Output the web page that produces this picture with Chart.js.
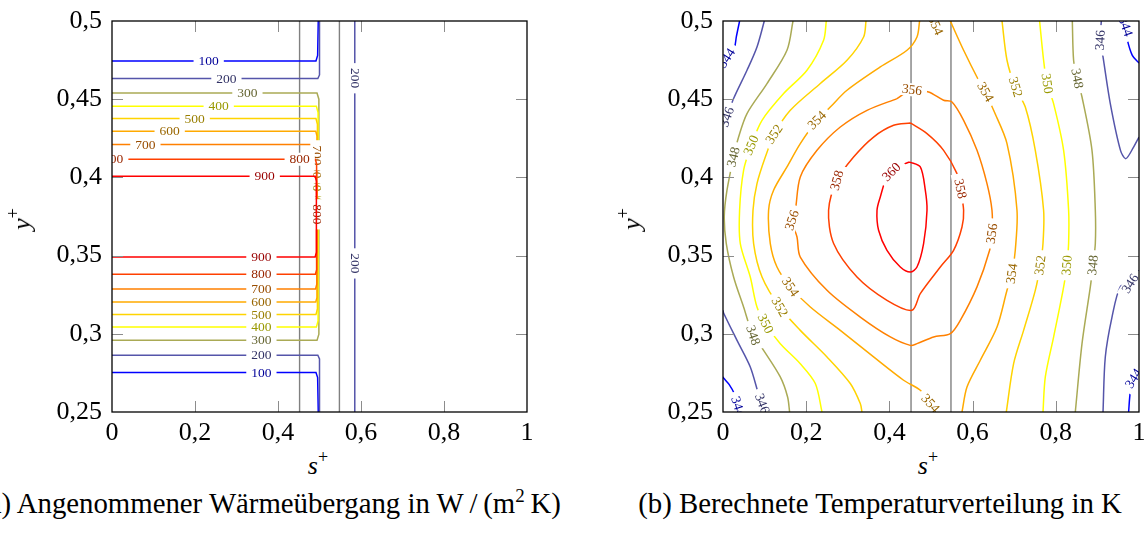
<!DOCTYPE html>
<html>
<head>
<meta charset="utf-8">
<script src="https://cdn.jsdelivr.net/npm/chart.js@4.4.0/dist/chart.umd.min.js"></script>
<style>
  html, body { margin: 0; padding: 0; background: #fff; }
  #wrap { position: relative; width: 1145px; height: 534px; overflow: hidden;
          font-family: 'Liberation Serif', 'Times New Roman', serif; color: #000; }
  canvas { position: absolute; top: 0; }
  .lab { position: absolute; font-size: 26px; line-height: 26px; white-space: nowrap; z-index: 2; }
  .lab sup { font-size: 18px; vertical-align: 0; position: relative; top: -11px; font-style: normal; }
  .cap { position: absolute; font-size: 28.8px; line-height: 28px; white-space: nowrap;
         transform: translateX(-50%); z-index: 2; }
  .cap sup { font-size: 19px; vertical-align: 0; position: relative; top: -11px; }
</style>
</head>
<body>
<div id="wrap">
  <canvas id="chart-waerme" width="560" height="445" style="left:0;width:560px;height:445px"></canvas>
  <canvas id="chart-temp" width="545" height="445" style="left:600px;width:545px;height:445px"></canvas>

  <div class="lab" style="left:318px;top:453px;transform:translateX(-50%)"><i>s</i><sup>+</sup></div>
  <div class="lab" style="left:928px;top:453px;transform:translateX(-50%)"><i>s</i><sup>+</sup></div>
  <div class="lab" style="left:23px;top:219px;transform:translate(-50%,-50%) rotate(-90deg)"><i>y</i><sup>+</sup></div>
  <div class="lab" style="left:633px;top:219px;transform:translate(-50%,-50%) rotate(-90deg)"><i>y</i><sup>+</sup></div>

  <div class="cap" style="left:270px;top:489px">(a) Angenommener Wärmeübergang in W&thinsp;/&thinsp;(m<sup>2</sup>&thinsp;K)</div>
  <div class="cap" style="left:880px;top:489px">(b) Berechnete Temperaturverteilung in K</div>
</div>

<script>
// --- Ejes ---
const xTickValues = [0, 0.2, 0.4, 0.6, 0.8, 1];
const yTickValues = [0.25, 0.3, 0.35, 0.4, 0.45, 0.5];
const wallS = [0.452, 0.548]; // Wände (graue Linien)

// --- Niveaus und Farben (colormap hot) ---
const hLevels = [100, 200, 300, 400, 500, 600, 700, 800, 900];
const tLevels = [344, 346, 348, 350, 352, 354, 356, 358, 360];
const levelColors = ['#0000ff', '#5555aa', '#aaaa55', '#ffff00', '#ffd400', '#ffaa00', '#ff8000', '#ff4000', '#ff0000'];

// --- (a) Wärmeübergang: Konturen [s+, y+] ---
const h100Top = [[0, 0.4744], [0.4915, 0.4744], [0.4955, 0.478], [0.497, 0.5]];
const h100Bot = [[0, 0.2752], [0.4915, 0.2752], [0.4955, 0.272], [0.497, 0.25]];
const h200Top = [[0, 0.4632], [0.496, 0.4632], [0.5, 0.4655], [0.5, 0.5]];
const h200Bot = [[0, 0.2863], [0.496, 0.2863], [0.5, 0.284], [0.5, 0.25]];
const h200Right = [[0.585, 0.5], [0.585, 0.25]];
const h300 = [[0, 0.454], [0.494, 0.454], [0.4985, 0.45], [0.4985, 0.2998], [0.494, 0.2958], [0, 0.2958]];
const h400 = [[0, 0.4455], [0.4925, 0.4455], [0.4965, 0.4415], [0.4965, 0.3083], [0.4925, 0.3043], [0, 0.3043]];
const h500 = [[0, 0.4376], [0.4915, 0.4376], [0.495, 0.434], [0.495, 0.316], [0.4915, 0.3123], [0, 0.3123]];
const h600 = [[0, 0.4295], [0.491, 0.4295], [0.494, 0.4265], [0.494, 0.3233], [0.491, 0.3203], [0, 0.3203]];
const h700 = [[0, 0.421], [0.4905, 0.421], [0.4935, 0.418], [0.4935, 0.3317], [0.4905, 0.3287], [0, 0.3287]];
const h800 = [[0, 0.4116], [0.49, 0.4116], [0.493, 0.4086], [0.493, 0.341], [0.49, 0.338], [0, 0.338]];
const h900 = [[0, 0.4007], [0.4895, 0.4007], [0.4925, 0.3977], [0.4925, 0.3521], [0.4895, 0.3491], [0, 0.3491]];

const hCurves = [
    [100, h100Top], [100, h100Bot], [200, h200Top], [200, h200Bot], [200, h200Right],
    [300, h300], [400, h400], [500, h500], [600, h600], [700, h700], [800, h800], [900, h900]
];

// [Niveau, s+, y+]
const hLabels = [
    [100, 0.233, 0.4744], [200, 0.2757, 0.4632], [300, 0.3263, 0.454], [400, 0.2571, 0.4455],
    [500, 0.1993, 0.4376], [600, 0.139, 0.4295], [700, 0.0805, 0.421], [800, 0.003, 0.4116],
    [800, 0.4523, 0.4116], [900, 0.368, 0.4007],
    [900, 0.36, 0.3491], [800, 0.36, 0.338], [700, 0.36, 0.3287], [600, 0.36, 0.3203],
    [500, 0.36, 0.3123], [400, 0.36, 0.3043], [300, 0.36, 0.2958], [200, 0.36, 0.2863], [100, 0.36, 0.2752],
    [200, 0.585, 0.4634], [200, 0.585, 0.345],
    [700, 0.4935, 0.4141], [600, 0.494, 0.4058], [500, 0.495, 0.3975], [400, 0.4965, 0.3892],
    [300, 0.4985, 0.3809], [800, 0.493, 0.3764]
];

// --- (b) Temperatur: Konturen [s+, y+] ---
const t344a = [[0.0399, 0.5], [0.032, 0.4898], [0.0279, 0.4834], [0.0127, 0.4762], [0, 0.471]];
const t344b = [[0, 0.2725], [0.0014, 0.2717], [0.015, 0.2675], [0.0279, 0.2613], [0.0337, 0.2554], [0.04, 0.25]];
const t344c = [[0.963, 0.5], [0.9675, 0.4965], [0.9712, 0.4887], [0.9839, 0.478], [1, 0.4731]];
const t344d = [[1, 0.277], [0.987, 0.2714], [0.9791, 0.2628], [0.975, 0.25]];
const t346a = [[0.0993, 0.5], [0.0817, 0.4834], [0.0577, 0.4685], [0.0255, 0.4504], [0.0096, 0.4386], [0, 0.4314]];
const t346b = [[0, 0.315], [0.0014, 0.3133], [0.0337, 0.2958], [0.0656, 0.2788], [0.0856, 0.2613], [0.094, 0.2554], [0.097, 0.25]];
const t346c = [[0.9094, 0.5], [0.907, 0.4877], [0.9135, 0.477], [0.931, 0.4472], [0.9555, 0.4173], [0.9683, 0.412], [0.987, 0.4194], [1, 0.4258]];
const t346d = [[1, 0.3406], [0.9791, 0.3321], [0.9555, 0.3304], [0.9351, 0.3107], [0.919, 0.2852], [0.9135, 0.25]];
const t348a = [[0.1683, 0.5], [0.1538, 0.4813], [0.1058, 0.46], [0.0577, 0.4408], [0.0375, 0.4258], [0.0255, 0.413],
    [0.0096, 0.3918], [0.003, 0.375], [0.0079, 0.3577], [0.0255, 0.3363], [0.0495, 0.3171], [0.0721, 0.299],
    [0.0976, 0.2894], [0.1377, 0.2724], [0.1553, 0.2596], [0.1601, 0.25]];
const t348b = [[0.8397, 0.5], [0.8428, 0.4749], [0.851, 0.4632], [0.863, 0.4514], [0.887, 0.4173], [0.895, 0.379],
    [0.895, 0.3577], [0.8894, 0.3438], [0.883, 0.33], [0.863, 0.2937], [0.8469, 0.25]];
const t350a = [[0.2483, 0.5], [0.2418, 0.4877], [0.2019, 0.4685], [0.1457, 0.4536], [0.0938, 0.4365], [0.068, 0.4205],
    [0.0495, 0.4045], [0.0399, 0.379], [0.0416, 0.3577], [0.0656, 0.3363], [0.0817, 0.3171], [0.1017, 0.3065],
    [0.1377, 0.2937], [0.1858, 0.2809], [0.2219, 0.2682], [0.238, 0.25]];
const t350b = [[0.761, 0.5], [0.7707, 0.4749], [0.7788, 0.46], [0.7947, 0.4472], [0.8188, 0.4173], [0.8308, 0.379],
    [0.8308, 0.3577], [0.8269, 0.3438], [0.8173, 0.3278], [0.7947, 0.2979], [0.7748, 0.2724], [0.7692, 0.25]];
const t352a = [[0.3438, 0.5], [0.338, 0.4898], [0.2981, 0.4749], [0.2339, 0.46], [0.1618, 0.4429], [0.1233, 0.4276],
    [0.1017, 0.413], [0.0817, 0.396], [0.0721, 0.379], [0.0736, 0.3577], [0.0938, 0.3363], [0.1361, 0.3171],
    [0.1858, 0.3022], [0.25, 0.2852], [0.306, 0.2682], [0.33, 0.2554], [0.3341, 0.25]];
const t352b = [[0.6707, 0.5], [0.6827, 0.4749], [0.7026, 0.4578], [0.7267, 0.445], [0.7507, 0.4173], [0.7707, 0.379],
    [0.7692, 0.3577], [0.7627, 0.3438], [0.7507, 0.3278], [0.7226, 0.3022], [0.6986, 0.2809], [0.681, 0.25]];
const t354a = [[0.4726, 0.5], [0.4663, 0.4898], [0.4423, 0.4813], [0.3781, 0.4706], [0.2981, 0.4557], [0.2579, 0.445],
    [0.226, 0.4365], [0.1858, 0.4216], [0.1538, 0.4067], [0.1216, 0.3918], [0.1096, 0.379], [0.1137, 0.3577],
    [0.1298, 0.3427], [0.1618, 0.33], [0.2099, 0.3171], [0.282, 0.3022], [0.362, 0.2852], [0.4341, 0.2703],
    [0.4743, 0.2639], [0.5224, 0.25]];
const t354b = [[0.5464, 0.5], [0.5784, 0.4813], [0.6144, 0.4621], [0.6305, 0.4546], [0.6505, 0.4429], [0.6827, 0.4216],
    [0.7067, 0.379], [0.7026, 0.3534], [0.6947, 0.3385], [0.6827, 0.3278], [0.6587, 0.3043], [0.6185, 0.2831],
    [0.5865, 0.266], [0.5745, 0.25]];
const t356 = [[0.4183, 0.4504], [0.3462, 0.4429], [0.282, 0.4322], [0.226, 0.4173], [0.1858, 0.4003], [0.1738, 0.379],
    [0.1659, 0.3726], [0.1779, 0.3619], [0.1858, 0.3491], [0.25, 0.3278], [0.33, 0.3107], [0.4022, 0.298],
    [0.4502, 0.2926], [0.4663, 0.2937], [0.5063, 0.298], [0.5464, 0.3001], [0.5704, 0.3086], [0.6106, 0.33],
    [0.6409, 0.3534], [0.6466, 0.3641], [0.6466, 0.379], [0.6346, 0.396], [0.6106, 0.4173], [0.5784, 0.4365],
    [0.5505, 0.4482], [0.5303, 0.4493], [0.4942, 0.4546], [0.4543, 0.456], [0.4183, 0.4504]];
const t358 = [[0.4502, 0.4348], [0.4904, 0.428], [0.5303, 0.4173], [0.5625, 0.4024], [0.5704, 0.3928], [0.5784, 0.379],
    [0.5745, 0.3683], [0.5543, 0.3534], [0.5224, 0.3427], [0.4743, 0.3257], [0.4543, 0.315], [0.3942, 0.3214],
    [0.3221, 0.3363], [0.2659, 0.3577], [0.2538, 0.379], [0.274, 0.3981], [0.3139, 0.413], [0.362, 0.4258],
    [0.4101, 0.4333], [0.4502, 0.4348]];
const t360 = [[0.4486, 0.4098], [0.4743, 0.4067], [0.4863, 0.3918], [0.4904, 0.379], [0.4822, 0.3577], [0.4663, 0.3427],
    [0.4502, 0.3395], [0.4262, 0.3427], [0.3942, 0.3534], [0.374, 0.3662], [0.3702, 0.379], [0.3781, 0.3875],
    [0.3942, 0.4003], [0.4183, 0.4067], [0.4486, 0.4098]];

const tCurves = [
    [344, t344a], [344, t344b], [344, t344c], [344, t344d],
    [346, t346a], [346, t346b], [346, t346c], [346, t346d],
    [348, t348a], [348, t348b], [350, t350a], [350, t350b],
    [352, t352a], [352, t352b], [354, t354a], [354, t354b],
    [356, t356], [358, t358], [360, t360]
];

const tLabels = [
    [344, 0.009, 0.4762], [344, 0.036, 0.2535], [344, 0.9675, 0.4965], [344, 0.987, 0.2714],
    [346, 0.0096, 0.4386], [346, 0.094, 0.2554], [346, 0.907, 0.4877], [346, 0.9791, 0.3321],
    [348, 0.0255, 0.413], [348, 0.0721, 0.299], [348, 0.851, 0.4632], [348, 0.8894, 0.3438],
    [350, 0.068, 0.4205], [350, 0.1017, 0.3065], [350, 0.7788, 0.46], [350, 0.8269, 0.3438],
    [352, 0.1233, 0.4276], [352, 0.1361, 0.3171], [352, 0.7026, 0.4578], [352, 0.7627, 0.3438],
    [354, 0.226, 0.4365], [354, 0.1618, 0.33], [354, 0.4983, 0.2554], [354, 0.6305, 0.4546],
    [354, 0.6947, 0.3385], [354, 0.5103, 0.4973],
    [356, 0.4543, 0.456], [356, 0.1659, 0.3726], [356, 0.6466, 0.3641],
    [358, 0.274, 0.3981], [358, 0.5704, 0.3928],
    [360, 0.405, 0.4035]
];

// --- Hilfsfunktionen ---
const SERIF = "'Liberation Serif', 'Times New Roman', serif";
const fmtTick = (v) => String(+Number(v).toFixed(2)).replace('.', ',');

const darken = (hex, f) => {
    const n = parseInt(hex.slice(1), 16);
    const r = Math.round(((n >> 16) & 255) * f), g = Math.round(((n >> 8) & 255) * f), b = Math.round((n & 255) * f);
    return `rgb(${r},${g},${b})`;
};

const segDist = (px, py, x1, y1, x2, y2) => {
    const dx = x2 - x1, dy = y2 - y1, len2 = dx * dx + dy * dy;
    let t = len2 ? ((px - x1) * dx + (py - y1) * dy) / len2 : 0;
    t = Math.max(0, Math.min(1, t));
    return Math.hypot(x1 + t * dx - px, y1 + t * dy - py);
};

// Beschriftungen direkt nach der jeweiligen Linie zeichnen (weißer Hintergrund)
const makeLabelPlugin = (items) => ({
    id: 'contourLabels',
    afterDatasetDraw(chart, args) {
        const ds = chart.data.datasets[args.index];
        if (ds.level === undefined) return;
        const { ctx, chartArea: a, scales: { x, y } } = chart;
        ctx.save();
        ctx.beginPath();
        ctx.rect(a.left, a.top, a.right - a.left, a.bottom - a.top);
        ctx.clip();
        ctx.font = `13.5px ${SERIF}`;
        ctx.textAlign = 'center';
        ctx.textBaseline = 'middle';
        items.filter(l => l[0] === ds.level).forEach(l => {
            const lx = x.getPixelForValue(l[1]), ly = y.getPixelForValue(l[2]);
            let best = null;
            chart.data.datasets.forEach((d, di) => {
                if (d.level !== ds.level) return;
                for (let k = 0; k + 1 < d.data.length; k++) {
                    const x1 = x.getPixelForValue(d.data[k].x), y1 = y.getPixelForValue(d.data[k].y);
                    const x2 = x.getPixelForValue(d.data[k + 1].x), y2 = y.getPixelForValue(d.data[k + 1].y);
                    const dist = segDist(lx, ly, x1, y1, x2, y2);
                    if (!best || dist < best.dist) best = { dist, di, ang: Math.atan2(y2 - y1, x2 - x1) };
                }
            });
            if (!best || best.di !== args.index) return;
            let ang = best.ang;
            if (ang > Math.PI / 2) ang -= Math.PI;
            if (ang <= -Math.PI / 2) ang += Math.PI;
            const txt = String(l[0]);
            const w = ctx.measureText(txt).width;
            ctx.save();
            ctx.translate(lx, ly);
            ctx.rotate(ang);
            ctx.fillStyle = '#fff';
            ctx.fillRect(-w / 2 - 5, -6.5, w + 10, 13);
            ctx.fillStyle = ds.labelColor;
            ctx.fillText(txt, 0, 0.5);
            ctx.restore();
        });
        ctx.restore();
    }
});

// Rahmen und nach innen zeigende Ticks
const frameTicks = {
    id: 'frameTicks',
    afterDraw(chart) {
        const { ctx, chartArea: a, scales: { x, y } } = chart;
        ctx.save();
        ctx.strokeStyle = '#8c8c8c';
        ctx.lineWidth = 1;
        ctx.beginPath();
        x.ticks.forEach(t => {
            if (t.value <= x.min || t.value >= x.max) return;
            const p = Math.round(x.getPixelForValue(t.value)) + 0.5;
            ctx.moveTo(p, a.bottom); ctx.lineTo(p, a.bottom - 11);
            ctx.moveTo(p, a.top); ctx.lineTo(p, a.top + 11);
        });
        y.ticks.forEach(t => {
            if (t.value <= y.min || t.value >= y.max) return;
            const p = Math.round(y.getPixelForValue(t.value)) + 0.5;
            ctx.moveTo(a.left, p); ctx.lineTo(a.left + 11, p);
            ctx.moveTo(a.right, p); ctx.lineTo(a.right - 11, p);
        });
        ctx.stroke();
        ctx.strokeStyle = '#000';
        ctx.lineWidth = 1.3;
        ctx.strokeRect(a.left, a.top, a.right - a.left, a.bottom - a.top);
        ctx.restore();
    }
};

const buildDatasets = (curves, levels, tension) => {
    const sets = wallS.map(s => ({
        data: [{ x: s, y: 0.25 }, { x: s, y: 0.5 }],
        borderColor: '#808080', borderWidth: 1.4, pointRadius: 0, showLine: true, order: 200
    }));
    curves.forEach(([lev, pts]) => {
        const i = levels.indexOf(lev);
        sets.push({
            level: lev,
            data: pts.map(([sx, sy]) => ({ x: sx, y: sy })),
            borderColor: levelColors[i],
            labelColor: darken(levelColors[i], 0.6),
            borderWidth: 1.5,
            pointRadius: 0,
            showLine: true,
            tension: tension,
            order: 100 - i
        });
    });
    return sets;
};

const createContourChart = (id, curves, levels, labels, yAxisWidth, padRight, tension) => {
    const canvas = document.getElementById(id);
    const tickFont = { family: SERIF, size: 26 };
    return new Chart(canvas.getContext('2d'), {
        type: 'scatter',
        data: { datasets: buildDatasets(curves, levels, tension) },
        options: {
            responsive: false,
            animation: false,
            devicePixelRatio: 1,
            layout: { padding: { top: 21, right: padRight, bottom: 0, left: 0 } },
            plugins: { legend: { display: false }, tooltip: { enabled: false } },
            events: [],
            scales: {
                x: {
                    type: 'linear', min: 0, max: 1,
                    afterBuildTicks: (ax) => { ax.ticks = xTickValues.map(v => ({ value: v })); },
                    afterFit: (ax) => { ax.height = 33; ax.paddingLeft = 0; ax.paddingRight = 0; },
                    ticks: { callback: fmtTick, font: tickFont, color: '#000', padding: 6, maxRotation: 0, autoSkip: false },
                    grid: { display: false, drawTicks: false, tickLength: 0 },
                    border: { display: false }
                },
                y: {
                    type: 'linear', min: 0.25, max: 0.5,
                    afterBuildTicks: (ax) => { ax.ticks = yTickValues.map(v => ({ value: v })); },
                    afterFit: (ax) => { ax.width = yAxisWidth; ax.paddingTop = 0; ax.paddingBottom = 0; },
                    ticks: { callback: fmtTick, font: tickFont, color: '#000', padding: 10, autoSkip: false },
                    grid: { display: false, drawTicks: false, tickLength: 0 },
                    border: { display: false }
                }
            }
        },
        plugins: [makeLabelPlugin(labels), frameTicks]
    });
};

createContourChart('chart-waerme', hCurves, hLevels, hLabels, 112, 33, 0);
createContourChart('chart-temp', tCurves, tLevels, tLabels, 123, 6, 0.3);
</script>
</body>
</html>
